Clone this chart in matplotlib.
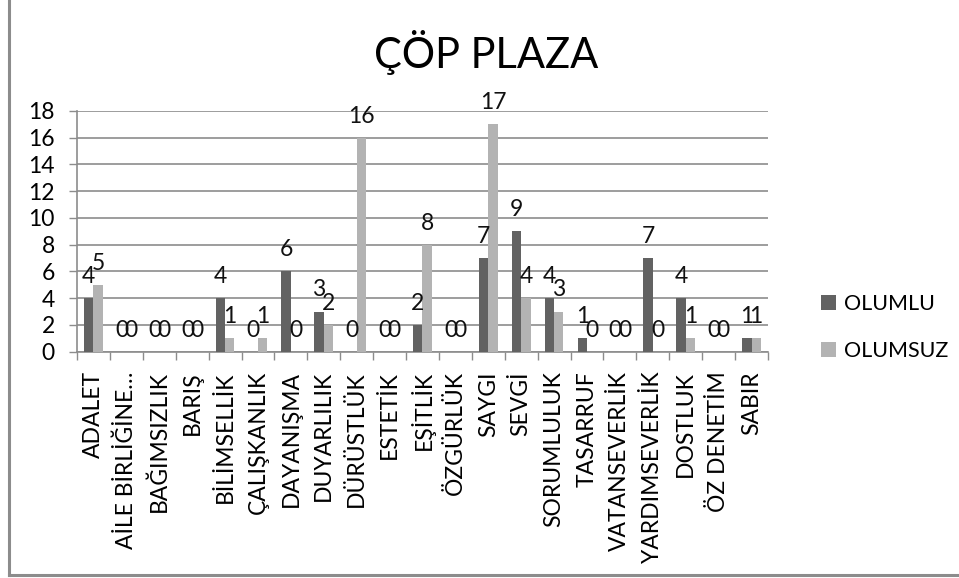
import matplotlib
matplotlib.use("Agg")
import matplotlib.pyplot as plt
import matplotlib.lines as lines
import numpy as np

plt.rcParams['font.family'] = ['Lato', 'DejaVu Sans']

categories = ['ADALET', 'AİLE BİRLİĞİNE…', 'BAĞIMSIZLIK', 'BARIŞ', 'BİLİMSELLİK',
              'ÇALIŞKANLIK', 'DAYANIŞMA', 'DUYARLILIK', 'DÜRÜSTLÜK', 'ESTETİK',
              'EŞİTLİK', 'ÖZGÜRLÜK', 'SAYGI', 'SEVGİ', 'SORUMLULUK', 'TASARRUF',
              'VATANSEVERLİK', 'YARDIMSEVERLİK', 'DOSTLUK', 'ÖZ DENETİM', 'SABIR']
olumlu = [4, 0, 0, 0, 4, 0, 6, 3, 0, 0, 2, 0, 7, 9, 4, 1, 0, 7, 4, 0, 1]
olumsuz = [5, 0, 0, 0, 1, 1, 0, 2, 16, 0, 8, 0, 17, 4, 3, 0, 0, 0, 1, 0, 1]
y_ticks = [0, 2, 4, 6, 8, 10, 12, 14, 16, 18]

DARK = '#626262'
LIGHT = '#b3b3b3'
GRID = '#8c8c8c'
W = 0.285

fig = plt.figure(figsize=(9.59, 5.78), dpi=100)
ax = fig.add_axes([0.0803, 0.3915, 0.7205, 0.4165])

x = np.arange(len(categories))
b1 = ax.bar(x - W / 2, olumlu, W, color=DARK, label='OLUMLU', zorder=3)
b2 = ax.bar(x + W / 2, olumsuz, W, color=LIGHT, label='OLUMSUZ', zorder=3)

# value labels sit above each bar, zeros just above the axis like the original
for bars, vals in ((b1, olumlu), (b2, olumsuz)):
    for rect, v in zip(bars, vals):
        ax.annotate(str(v), (rect.get_x() + rect.get_width() / 2, v),
                    xytext=(0, 8), textcoords='offset points',
                    ha='center', va='bottom', fontsize=16.5, color='#111111', zorder=4)

ax.set_xlim(-0.5, len(categories) - 0.5)
ax.set_ylim(0, 18)
ax.set_yticks(y_ticks)
ax.tick_params(axis='y', length=6, width=1, color=GRID, pad=10, labelsize=16.5)
ax.yaxis.grid(True, color=GRID, linewidth=1.2, zorder=0)

ax.set_xticks(np.arange(-0.5, len(categories), 1.0))
ax.set_xticklabels([])
ax.set_xticks(x, minor=True)
ax.set_xticklabels(categories, minor=True, rotation=90, fontsize=16.5, va='top')
ax.tick_params(axis='x', which='major', length=6, width=1, color=GRID)
ax.tick_params(axis='x', which='minor', length=0, pad=14)

for s in ('top', 'right'):
    ax.spines[s].set_visible(False)
for s in ('left', 'bottom'):
    ax.spines[s].set_color(GRID)
    ax.spines[s].set_linewidth(1.2)

fig.text(0.507, 0.91, 'ÇÖP PLAZA', ha='center', va='center', fontsize=30)

fig.legend(handles=[b1, b2], loc='center left', bbox_to_anchor=(0.836, 0.434),
           frameon=False, fontsize=15.5, handlelength=0.7, handleheight=0.7,
           handletextpad=0.35, labelspacing=1.25)

fig.add_artist(lines.Line2D([0.009, 0.009], [0.005, 1.0], color=GRID, linewidth=2.2))
fig.add_artist(lines.Line2D([0.009, 1.0], [0.006, 0.006], color=GRID, linewidth=2.2))

fig.savefig('out.png', dpi=100)
